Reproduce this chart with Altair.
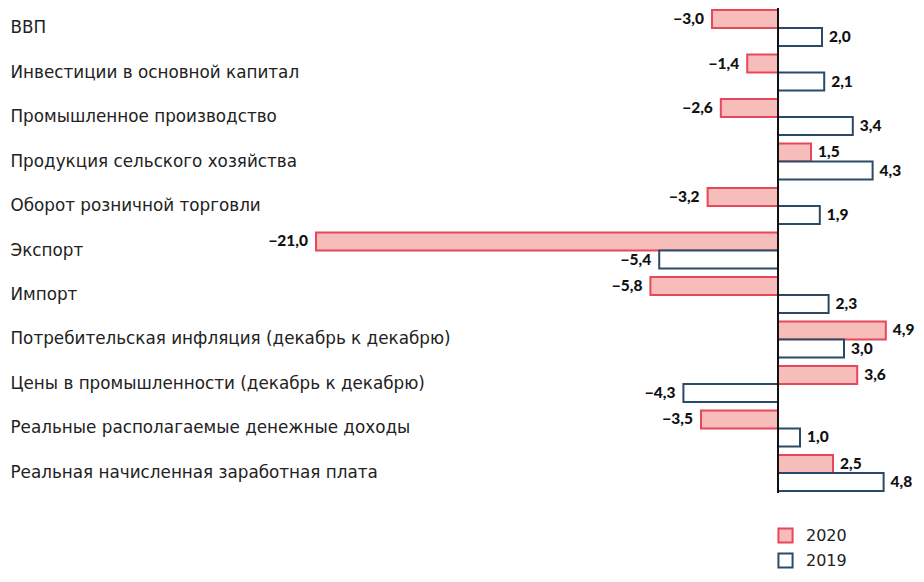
import altair as alt
import pandas as pd

categories = [
    "ВВП",
    "Инвестиции в основной капитал",
    "Промышленное производство",
    "Продукция сельского хозяйства",
    "Оборот розничной торговли",
    "Экспорт",
    "Импорт",
    "Потребительская инфляция (декабрь к декабрю)",
    "Цены в промышленности (декабрь к декабрю)",
    "Реальные располагаемые денежные доходы",
    "Реальная начисленная заработная плата",
]
values_2020 = [-3.0, -1.4, -2.6, 1.5, -3.2, -21.0, -5.8, 4.9, 3.6, -3.5, 2.5]
values_2019 = [2.0, 2.1, 3.4, 4.3, 1.9, -5.4, 2.3, 3.0, -4.3, 1.0, 4.8]
years = ["2020", "2019"]

rows = []
for i, c in enumerate(categories):
    for y, v in zip(years, [values_2020[i], values_2019[i]]):
        s = f"{abs(v):.1f}".replace(".", ",")
        rows.append({"cat": c, "year": y, "value": v,
                     "label": ("\u2212" + s) if v < 0 else s,
                     "pos": "neg" if v < 0 else "pos"})
df = pd.DataFrame(rows)

FONT = "DejaVu Sans"
VFONT = "Lato"
W = 890
H = 485
x_scale = alt.Scale(domain=[-34.91, 5.545], nice=False, zero=False)
y_scale = alt.Scale(paddingInner=0.19, paddingOuter=0.045)

base = alt.Chart(df).encode(
    y=alt.Y("cat:N", sort=categories, scale=y_scale, title=None,
            axis=alt.Axis(labelAlign="left", labelPadding=0, ticks=False,
                          domain=False, grid=False, labelFontSize=16.8,
                          labelFont=FONT, labelColor="#222", labelLimit=700)),
    yOffset=alt.YOffset("year:N", sort=years),
)

bars = base.mark_bar(strokeWidth=2, cornerRadius=0).encode(
    x=alt.X("value:Q", scale=x_scale, axis=None),
    fill=alt.Fill("year:N", sort=years,
                  scale=alt.Scale(domain=years, range=["#f6bdbb", "#ffffff"]),
                  legend=alt.Legend(title=None, orient="none", legendX=767,
                                    legendY=519, symbolType="square",
                                    symbolSize=200, symbolStrokeWidth=2,
                                    labelFontSize=16, labelFont=FONT,
                                    labelColor="#222", rowPadding=2,
                                    labelOffset=12)),
    stroke=alt.Stroke("year:N", sort=years,
                      scale=alt.Scale(domain=years, range=["#e8475a", "#2b4a68"]),
                      legend=None),
)

text_pos = base.transform_filter(alt.datum.pos == "pos").mark_text(
    align="left", baseline="middle", dx=7, fontSize=15.5, fontWeight=900,
    font=VFONT, color="#111").encode(
    x=alt.X("value:Q", scale=x_scale), text="label:N")

text_neg = base.transform_filter(alt.datum.pos == "neg").mark_text(
    align="right", baseline="middle", dx=-8, fontSize=15.5, fontWeight=900,
    font=VFONT, color="#111").encode(
    x=alt.X("value:Q", scale=x_scale), text="label:N")

zero = alt.Chart(pd.DataFrame({"z": [0]})).mark_rule(
    color="#111", strokeWidth=2).encode(x=alt.X("z:Q", scale=x_scale))

chart = alt.layer(bars, text_pos, text_neg, zero).properties(
    width=W, height=H,
    background="white",
    autosize=alt.AutoSizeParams(type="none"),
    padding={"left": 2, "top": 0, "right": 16, "bottom": 80},
).configure_view(stroke=None)

chart.save("out.html", embed_options={"renderer": "svg", "actions": False})
